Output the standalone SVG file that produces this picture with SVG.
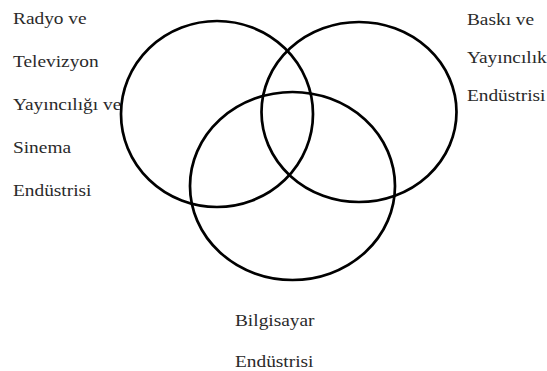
<svg xmlns="http://www.w3.org/2000/svg" width="547" height="371" viewBox="0 0 547 371">
<style>
text{font-size:17.6px;fill:#2a2a2a}
.set{fill:none;stroke:#000;stroke-width:2.7}
</style>
<rect width="547" height="371" fill="#fff"/>
<g id="labels" font-family="Liberation Serif" transform="scale(1.1 1)">
<g id="label-radyo">
<text x="11.8" y="24">Radyo ve</text>
<text x="11.8" y="67">Televizyon</text>
<text x="11.8" y="110">Yayıncılığı ve</text>
<text x="11.8" y="153">Sinema</text>
<text x="11.8" y="196">Endüstrisi</text>
</g>
<g id="label-baski">
<text x="424.5" y="25">Baskı ve</text>
<text x="424.5" y="63">Yayıncılık</text>
<text x="424.5" y="101">Endüstrisi</text>
</g>
<g id="label-bilgisayar">
<text x="213.6" y="326">Bilgisayar</text>
<text x="213.6" y="367">Endüstrisi</text>
</g>
</g>
<g id="set-radyo"><ellipse class="set" cx="217" cy="114" rx="96" ry="93"/></g>
<g id="set-baski"><ellipse class="set" cx="359" cy="112" rx="97.5" ry="90"/></g>
<g id="set-bilgisayar"><ellipse class="set" cx="292.5" cy="186" rx="102.5" ry="94"/></g>
<g id="connectors"></g>
</svg>
